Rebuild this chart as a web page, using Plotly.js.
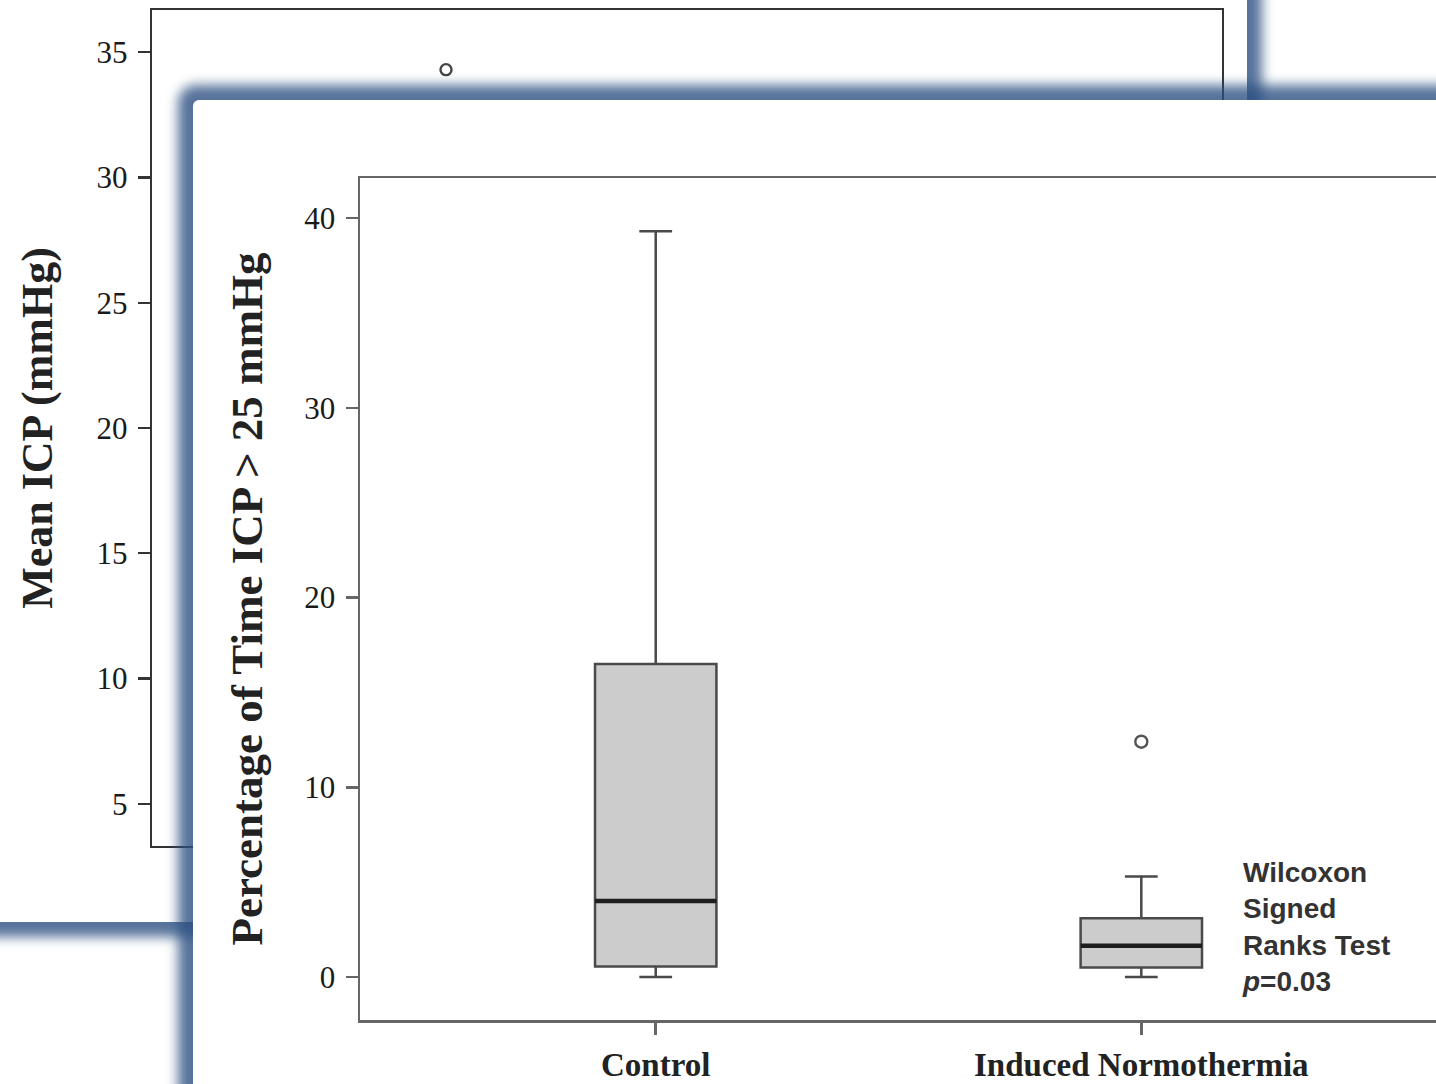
<!DOCTYPE html>
<html>
<head>
<meta charset="utf-8">
<script src="https://cdn.plot.ly/plotly-3.0.1.min.js"></script>
<style>
  html, body { margin:0; padding:0; width:1436px; height:1084px; overflow:hidden; background:#ffffff; }
  .panel { position:absolute; background:#ffffff; border-radius:6px;
           box-shadow: 0 0 12px 15px rgba(45,80,130,0.8); }
  #backPanel { left:-100px; top:-100px; width:1347px; height:1022px; z-index:1; }
  #backPlot { position:absolute; left:0; top:0; width:1436px; height:1084px; z-index:2; }
  #frontPanel { left:193px; top:100px; width:1400px; height:1200px; z-index:3; }
  #frontPlot { position:absolute; left:0; top:0; width:1460px; height:1084px; z-index:4; }
</style>
</head>
<body>
<div id="backPanel" class="panel"></div>
<div id="backPlot"></div>
<div id="frontPanel" class="panel"></div>
<div id="frontPlot"></div>
<script>
// ---- data ----
const groups = ["Control", "Induced Normothermia"];

// Back chart (Mean ICP, mostly hidden behind front panel): only visible outlier
const meanIcpOutlierGroup = ["Control"];
const meanIcpOutlierValue = [34.3];
const meanIcpTicks = [5, 10, 15, 20, 25, 30, 35];

// Front chart: Percentage of time ICP > 25 mmHg (box statistics)
const pctLowerFence = [0.0, 0.0];
const pctQ1 = [0.55, 0.5];
const pctMedian = [4.0, 1.65];
const pctQ3 = [16.5, 3.1];
const pctUpperFence = [39.3, 5.3];
const pctOutlierGroup = ["Induced Normothermia"];
const pctOutlierValue = [12.4];
const pctTicks = [0, 10, 20, 30, 40];

const statText = "Wilcoxon<br>Signed<br>Ranks Test<br><i>p</i>=0.03";

// ---- back chart ----
const serif = "Liberation Serif, Times New Roman, serif";
const backTraces = [{
  type: "scatter", mode: "markers",
  x: meanIcpOutlierGroup, y: meanIcpOutlierValue,
  marker: { symbol: "circle-open", size: 11, color: "#444", line: { width: 2.4, color: "#444" } },
  showlegend: false, hoverinfo: "skip"
}];
const backLayout = {
  width: 1436, height: 1084,
  margin: { l: 152, r: 214, t: 10, b: 238 },
  paper_bgcolor: "rgba(0,0,0,0)", plot_bgcolor: "rgba(0,0,0,0)",
  showlegend: false,
  xaxis: {
    type: "category", categoryarray: groups, categoryorder: "array",
    range: [-0.61, 1.61], showgrid: false, zeroline: false,
    showline: true, mirror: true, linecolor: "#333", linewidth: 2.2,
    ticks: "outside", ticklen: 12, tickwidth: 2.2, tickcolor: "#333",
    tickfont: { family: serif, size: 32, color: "#222" }
  },
  yaxis: {
    range: [3.32, 36.68], tickvals: meanIcpTicks, showgrid: false, zeroline: false,
    showline: true, mirror: true, linecolor: "#333", linewidth: 2.2,
    ticks: "outside", ticklen: 12, tickwidth: 2.2, tickcolor: "#333",
    ticklabelstandoff: 4,
    tickfont: { family: serif, size: 31, color: "#1a1a1a" },
    title: { text: "<b>Mean ICP (mmHg)</b>", font: { family: serif, size: 44, color: "#222" }, standoff: 30 }
  }
};
Plotly.newPlot("backPlot", backTraces, backLayout, { displayModeBar: false, staticPlot: true });

// ---- front chart ----
const boxWidth = 0.25;
const frontTraces = [{
  type: "box",
  x: groups,
  q1: pctQ1, median: pctMedian, q3: pctQ3,
  lowerfence: pctLowerFence, upperfence: pctUpperFence,
  width: boxWidth, whiskerwidth: 0.27,
  fillcolor: "#cccccc",
  line: { color: "#4a4a4a", width: 2.5 },
  boxpoints: false, showlegend: false, hoverinfo: "skip"
}, {
  type: "scatter", mode: "markers",
  x: pctOutlierGroup, y: pctOutlierValue,
  marker: { symbol: "circle-open", size: 12, color: "#555", line: { width: 2.4, color: "#555" } },
  showlegend: false, hoverinfo: "skip"
}];

const medianShapes = pctMedian.map((m, i) => ({
  type: "line", xref: "x", yref: "y",
  x0: i - boxWidth / 2, x1: i + boxWidth / 2, y0: m, y1: m,
  line: { color: "#1e1e1e", width: 4.5 }, layer: "above"
}));

const frontLayout = {
  width: 1460, height: 1084,
  margin: { l: 360, r: 22, t: 178, b: 64 },
  paper_bgcolor: "rgba(0,0,0,0)", plot_bgcolor: "rgba(0,0,0,0)",
  showlegend: false,
  xaxis: {
    type: "category", categoryarray: groups, categoryorder: "array",
    range: [-0.609, 1.611], showgrid: false, zeroline: false,
    showline: true, mirror: true, linecolor: "#666", linewidth: 2.5,
    ticks: "outside", ticklen: 12, tickwidth: 2.5, tickcolor: "#666",
    ticklabelstandoff: 2,
    tickfont: { family: serif, size: 33, color: "#222", weight: "bold" }
  },
  yaxis: {
    range: [-2.266, 42.108], tickvals: pctTicks, showgrid: false, zeroline: false,
    showline: true, mirror: true, linecolor: "#666", linewidth: 2.5,
    ticks: "outside", ticklen: 12, tickwidth: 2.5, tickcolor: "#666",
    ticklabelstandoff: 4,
    tickfont: { family: serif, size: 31, color: "#1a1a1a" },
    title: { text: "<b>Percentage of Time ICP > 25 mmHg</b>", font: { family: serif, size: 45, color: "#222" }, standoff: 28 }
  },
  shapes: medianShapes,
  annotations: [{
    xref: "paper", yref: "paper", x: 0.816, y: 0.11,
    xanchor: "left", yanchor: "middle", align: "left",
    text: statText, showarrow: false,
    font: { family: "Liberation Sans, Arial, sans-serif", size: 28, color: "#333", weight: "bold" }
  }]
};
Plotly.newPlot("frontPlot", frontTraces, frontLayout, { displayModeBar: false, staticPlot: true });
</script>
</body>
</html>
